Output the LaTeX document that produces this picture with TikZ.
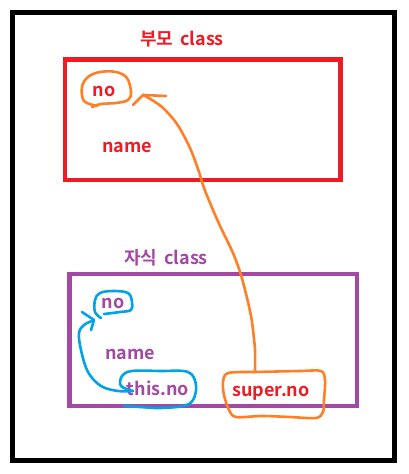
\documentclass[tikz,border=0pt]{standalone}
\usepackage{fontspec}
\setmainfont{Noto Sans CJK KR}[BoldFont={* Bold}]
\begin{document}
\begin{tikzpicture}[x=1pt,y=-1pt]
\definecolor{pred}{HTML}{ED1C24}
\definecolor{ppurple}{HTML}{A349A4}
\definecolor{porange}{HTML}{FF7F27}
\definecolor{pblue}{HTML}{00A2E8}
\tikzset{
  lbl/.style={inner sep=0pt, font=\fontsize{18}{18}\selectfont\bfseries},
  pen/.style={line width=2.6pt, line cap=round, line join=round},
}
\useasboundingbox (0,0) rectangle (408,474);
\fill[white] (0,0) rectangle (408,474);
% frames
\draw[line width=5pt] (12.5,12.5) rectangle (394.5,460.5);
\draw[pred, line width=4.5pt] (65,59.5) rectangle (340.5,180);
\draw[ppurple, line width=4.5pt] (69.5,274) rectangle (357,406);
% texts
\node[lbl, text=pred] (ptitle) at (182,39) {부모\hspace{3pt} class};
\node[lbl, text=pred] (pno) at (104,91) {no};
\node[lbl, text=pred] (pname) at (127,147) {name};
\node[lbl, text=ppurple] (ctitle) at (166,258) {자식\hspace{3pt} class};
\node[lbl, text=ppurple] (cno) at (113,303) {no};
\node[lbl, text=ppurple] (cname) at (130,354) {name};
\node[lbl, text=ppurple] (thisno) at (158,388) {this.no};
\node[lbl, text=pred] (superno) at (271,393) {super.no};
% orange loop around parent no
\draw[porange, pen] plot[smooth, tension=0.6] coordinates {(97,106) (84,101) (82,87) (88,77) (100,72) (116,72) (127,78) (131,92) (128,100) (116,103) (101,104) (92,107)};
% orange loop around super.no
\draw[porange, pen] plot[smooth, tension=0.5] coordinates {(255,372) (300,371) (321,371) (325,380) (324,400) (323,412) (316,418) (290,417) (262,416) (236,417) (229,410) (224,395) (223,382) (228,373) (255,372)};
% orange arrow
\draw[porange, pen] plot[smooth, tension=0.5] coordinates {(255,371) (255,350) (252,322) (248,302) (241,275) (233,253) (221,228) (213,210) (204,188) (199,172) (190,148) (177,124) (162,107) (147,97) (143,95)};
\draw[porange, pen] (133,105) -- (143,95) -- (166,96);
% blue loop around child no
\draw[pblue, pen] plot[smooth, tension=0.6] coordinates {(101,318) (95,312) (95,300) (100,293) (113,291) (128,293) (132,302) (131,310) (120,312) (104,314)};
% blue loop around this.no
\draw[pblue, pen] plot[smooth, tension=0.6] coordinates {(133,391) (121,386) (122,376) (132,371) (160,371) (188,372) (196,385) (193,400) (183,406) (160,408) (140,407) (124,406)};
% blue arrow
\draw[pblue, pen] plot[smooth, tension=0.6] coordinates {(133,391) (118,391) (101,386) (88,372) (81,350) (79,333) (84,325) (92,321)};
\draw[pblue, pen] (82,312) -- (94,320) -- (91,330);
\end{tikzpicture}
\end{document}
